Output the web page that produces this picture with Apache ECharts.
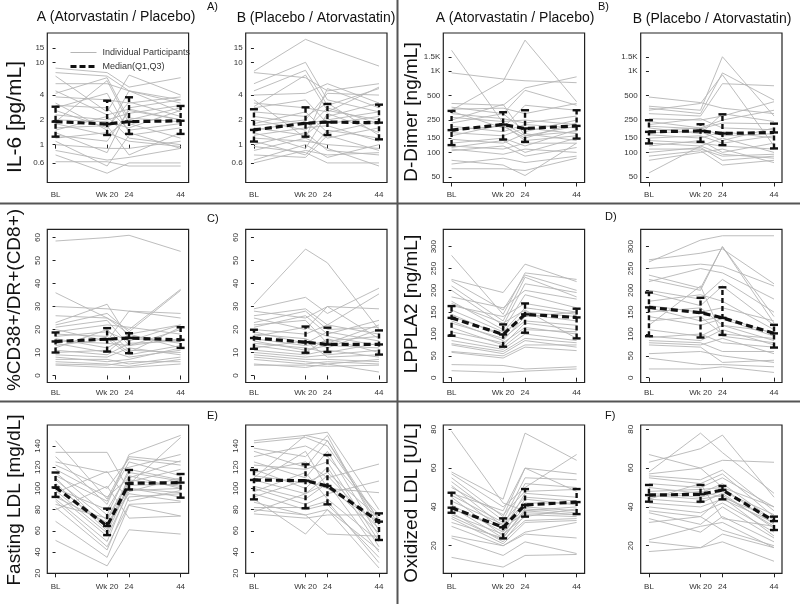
<!DOCTYPE html>
<html><head><meta charset="utf-8">
<script src="https://cdn.jsdelivr.net/npm/echarts@6/dist/echarts.min.js"></script>
<style>html,body{margin:0;padding:0;background:#fff}#c{width:800px;height:604px}</style>
</head><body><div id="c"></div>
<script>
// ---------- shared categories ----------
const timeLabels = ['BL', 'Wk 20', '24', '44'];
const timePos = [0, 20, 28.5, 48.5];

// ---------- tick labels ----------
const il6Ticks = [0.6, 1, 2, 4, 10, 15];
const il6TickLabels = ['0.6', '1', '2', '4', '10', '15'];
const ddTicks = [50, 100, 150, 250, 500, 1000, 1500];
const ddTickLabels = ['50', '100', '150', '250', '500', '1K', '1.5K'];
const cd38Ticks = [0, 10, 20, 30, 40, 50, 60];
const lpTicks = [0, 50, 100, 150, 200, 250, 300];
const ldlTicks = [20, 40, 60, 80, 100, 120, 140];
const oxTicks = [20, 40, 60, 80];

// ---------- IL-6, group A ----------
const il6A_med = [1.90, 1.78, 1.90, 1.95];
const il6A_q1 = [1.25, 1.31, 1.35, 1.35];
const il6A_q3 = [2.89, 3.42, 3.76, 2.95];
const il6A_ind = [
  [8.5, 7.5, 5, 6.5], [7.5, 6.8, 4.5, 3.2], [6.8, 2.5, 7, 4], [5.5, 5.5, 4.5, 3.5],
  [4.2, 6.5, 2, 2.8], [3.8, 3.5, 3.2, 3.8], [3.2, 1.5, 4.5, 2.5], [3, 2.8, 1.5, 1.8],
  [2.6, 1.6, 3.3, 2.2], [2.3, 2, 2.4, 3], [2, 1.9, 1.6, 2.6], [1.9, 6, 1.8, 1.2],
  [1.8, 1.3, 2.1, 1.9], [1.6, 1.7, 0.75, 1.4], [1.5, 2.2, 1.2, 1.0], [1.3, 1.1, 2.6, 2.0],
  [1.2, 1.4, 1.1, 0.95], [1.1, 0.55, 1.3, 1.6], [1.0, 0.9, 0.9, 1.1], [0.85, 0.65, 0.7, 0.9],
  [0.75, 0.45, 0.6, 0.6], [0.62, 0.62, 0.55, 0.55], [2.8, 4.2, 1.4, 0.9], [1.4, 0.8, 2.8, 3.5],
  [4.5, 2.3, 2.7, 2.0]
];
// ---------- IL-6, group B ----------
const il6B_med = [1.51, 1.82, 1.88, 1.85];
const il6B_q1 = [1.09, 1.25, 1.31, 1.16];
const il6B_q3 = [2.69, 2.84, 3.12, 3.06];
const il6B_ind = [
  [7.8, 19, 15, 9], [7.5, 6.5, 4.5, 5.5], [5.5, 10, 3.5, 2.5], [4.5, 8, 3, 4.8],
  [4, 4.2, 5.5, 3.2], [3.5, 1.2, 4.8, 2.8], [3.2, 2.8, 2.5, 5], [2.8, 3.5, 1.8, 2.2],
  [2.5, 2.2, 3.2, 1.3], [2.2, 1.8, 2, 2.5], [2.0, 1.5, 2.8, 1.8], [1.8, 2.5, 1.4, 1.9],
  [1.6, 1.3, 2.2, 3.2], [1.5, 1.9, 1.2, 1.6], [1.4, 0.9, 2.4, 1.4], [1.3, 1.6, 1.7, 1.1],
  [1.2, 1.1, 1.0, 0.9], [1.1, 0.75, 1.5, 1.2], [1.0, 1.4, 0.85, 0.75], [0.95, 0.8, 0.6, 0.6],
  [0.85, 1.2, 0.9, 0.55], [0.75, 0.7, 1.3, 0.85], [0.65, 1.0, 0.7, 1.0], [0.6, 0.85, 0.75, 0.8],
  [2.9, 7, 2.6, 2.0], [1.7, 2.0, 4.2, 4]
];
// ---------- D-Dimer, group A ----------
const ddA_med = [188, 220, 197, 212];
const ddA_q1 = [123, 144, 135, 148];
const ddA_q3 = [324, 312, 330, 330];
const ddA_ind = [
  [1800, 230, 160, 180], [950, 800, 760, 720], [330, 750, 2400, 420], [400, 380, 620, 850],
  [360, 300, 580, 380], [340, 350, 300, 400], [320, 200, 380, 330], [300, 260, 230, 280],
  [270, 240, 250, 220], [230, 300, 180, 250], [210, 180, 220, 200], [190, 210, 150, 230],
  [175, 160, 200, 170], [160, 220, 140, 160], [145, 130, 170, 140], [130, 150, 120, 190],
  [120, 110, 130, 130], [115, 140, 100, 150], [110, 95, 110, 100], [105, 120, 90, 115],
  [80, 70, 52, 130], [72, 85, 75, 90], [63, 63, 60, 85], [250, 390, 160, 210]
];
// ---------- D-Dimer, group B ----------
const ddB_med = [179, 184, 171, 176];
const ddB_q1 = [129, 135, 123, 112];
const ddB_q3 = [249, 222, 294, 226];
const ddB_ind = [
  [480, 410, 350, 300], [370, 330, 1500, 280], [350, 300, 950, 440], [330, 400, 900, 120],
  [300, 280, 700, 660], [260, 250, 280, 420], [240, 200, 250, 330], [220, 260, 200, 190],
  [200, 170, 300, 240], [185, 200, 160, 170], [175, 180, 140, 200], [165, 150, 180, 150],
  [150, 160, 130, 160], [140, 130, 120, 110], [130, 120, 150, 100], [120, 140, 100, 130],
  [110, 110, 90, 95], [100, 115, 80, 90], [90, 105, 70, 80], [80, 100, 110, 75],
  [56, 120, 95, 85], [210, 195, 230, 225]
];
// ---------- %CD38+/DR+(CD8+), group A ----------
const cdA_med = [14.8, 15.8, 16.3, 15.5];
const cdA_q1 = [10.0, 10.4, 9.7, 12.0];
const cdA_q3 = [18.7, 20.6, 18.4, 21.0];
const cdA_ind = [
  [58.5, 60, 61, 54], [36, 25, 18, 22], [30, 29, 28, 27], [26, 25, 20, 37.5],
  [23, 31, 16, 15], [22, 27, 19, 37], [20, 15, 28, 25], [19, 22, 21, 18],
  [18, 17, 10, 21], [17, 19, 15, 22], [16, 12, 17, 14], [15, 14, 13, 16],
  [14, 10, 18, 12], [13, 16, 9, 13], [12, 20, 11, 10], [11, 9, 14, 15],
  [10, 11, 8, 11], [9, 8, 12, 9], [8, 6, 7, 12], [7, 7, 5, 8],
  [6, 5, 4, 7], [5, 4.5, 6, 6], [4.5, 3.5, 3.5, 5], [21, 24, 13, 20]
];
// ---------- %CD38+/DR+(CD8+), group B ----------
const cdB_med = [16.3, 14.5, 13.5, 13.5];
const cdB_q1 = [11.6, 9.9, 10.2, 9.1];
const cdB_q3 = [19.9, 21.3, 20.8, 19.6];
const cdB_ind = [
  [31, 55, 49, 20], [29, 34, 27, 38], [28, 25, 30, 29], [26, 29, 22, 35.5],
  [25, 20, 30, 16], [23, 28, 20, 21], [22, 24, 14, 22], [20, 18, 22, 18],
  [19, 14, 19, 15], [18, 16, 12, 20], [17, 21, 17, 13], [16, 13, 15, 17],
  [15, 11, 13, 12], [14, 12, 10, 14], [13, 10, 16, 10], [12, 15, 8, 9],
  [11, 9, 11, 8], [10, 8, 9, 11], [9, 7, 7, 6], [8, 6, 5, 7],
  [7, 5, 6, 5], [5, 3.5, 5, 1.5], [4.5, 4.5, 4, 4.5], [21, 26, 18, 24]
];
// ---------- LPPLA2, group A ----------
const lpA_med = [137, 99, 145, 138];
const lpA_q1 = [96, 71, 103, 90];
const lpA_q3 = [164, 122, 170, 158];
const lpA_ind = [
  [280, 145, 240, 225], [225, 195, 260, 220], [222, 155, 235, 200], [210, 130, 230, 185],
  [200, 120, 215, 195], [185, 160, 200, 180], [175, 110, 190, 160], [165, 140, 170, 150],
  [155, 105, 160, 145], [145, 95, 150, 140], [140, 100, 145, 130], [130, 85, 140, 150],
  [125, 90, 130, 120], [115, 75, 125, 110], [105, 80, 115, 100], [95, 70, 110, 105],
  [85, 65, 100, 85], [78, 60, 90, 80], [75, 55, 85, 70], [60, 50, 75, 75],
  [58, 45, 70, 62], [30, 28, 20, 25], [16, 12, 15, 20], [170, 125, 155, 90]
];
// ---------- LPPLA2, group B ----------
const lpB_med = [161, 149, 137, 101.5];
const lpB_q1 = [95, 92, 98, 69];
const lpB_q3 = [195, 183, 207, 121];
const lpB_ind = [
  [265, 315, 325, 325], [270, 285, 295, 215], [250, 260, 255, 210], [235, 205, 300, 125],
  [225, 200, 300, 140], [220, 250, 240, 180], [200, 180, 225, 150], [195, 165, 210, 120],
  [175, 190, 175, 110], [165, 150, 160, 130], [160, 130, 140, 100], [150, 160, 120, 105],
  [140, 120, 135, 95], [130, 140, 100, 90], [110, 95, 120, 85], [95, 85, 110, 75],
  [92, 100, 80, 70], [85, 80, 60, 60], [80, 75, 90, 55], [75, 70, 35, 40],
  [55, 60, 50, 35], [45, 30, 30, 25], [20, 20, 25, 12], [120, 210, 95, 80]
];
// ---------- Fasting LDL, group A ----------
const ldlA_med = [101, 64.6, 104.8, 105.5];
const ldlA_q1 = [92, 56, 99, 91.3];
const ldlA_q3 = [115, 81, 117.4, 113.6];
const ldlA_ind = [
  [145, 90, 130, 125], [134, 134, 98, 100], [130, 85, 132, 150], [125, 115, 120, 132],
  [122, 100, 128, 122], [118, 92, 110, 126], [115, 75, 118, 108], [112, 88, 125, 112],
  [108, 70, 106, 118], [105, 60, 112, 100], [102, 65, 100, 96], [100, 80, 115, 107],
  [98, 58, 103, 104], [95, 55, 97, 110], [92, 68, 95, 88], [90, 50, 100, 92],
  [88, 45, 85, 87], [85, 72, 108, 102], [82, 42, 92, 95], [80, 102, 72, 74],
  [69, 35, 84, 74], [51, 27, 61, 57], [110, 62, 104, 148], [96, 116, 88, 98]
];
// ---------- Fasting LDL, group B ----------
const ldlB_med = [108, 107.3, 102.3, 68.7];
const ldlB_q1 = [89.7, 81.3, 85, 51.4];
const ldlB_q3 = [117.4, 122.7, 131.5, 76.5];
const ldlB_ind = [
  [145, 150, 153, 80], [143, 148, 140, 70], [138, 130, 150, 60], [135, 120, 145, 65],
  [130, 140, 130, 75], [125, 110, 135, 55], [122, 118, 125, 50], [118, 100, 120, 45],
  [115, 125, 110, 123], [112, 105, 115, 72], [108, 95, 112, 62], [105, 135, 100, 68],
  [102, 90, 105, 40], [100, 85, 95, 107], [97, 115, 90, 50], [95, 80, 85, 35],
  [92, 108, 100, 96], [90, 57, 80, 42], [87, 75, 57, 55], [82, 82, 88, 30],
  [80, 75, 80, 25], [78, 95, 105, 58], [76, 72, 75, 75], [110, 150, 145, 70]
];
// ---------- Oxidized LDL, group A ----------
const oxA_med = [39.6, 29.5, 41, 42.5];
const oxA_q1 = [37, 23.8, 35, 36.3];
const oxA_q3 = [47.3, 34.1, 49.2, 49.2];
const oxA_ind = [
  [79, 42, 38, 40], [58, 44, 78, 64], [57, 40, 50, 67], [55, 35, 60, 57],
  [53, 33, 55, 54], [51, 30, 52, 50], [50, 36, 48, 49], [48, 28, 47, 45],
  [46, 32, 45, 43], [45, 25, 44, 41], [43, 31, 42, 42], [41, 27, 40, 38],
  [40, 24, 39, 37], [39, 29, 37, 36], [37, 22, 36, 35], [36, 26, 35, 39],
  [35, 23, 33, 34], [34, 21, 32, 33], [32, 24, 38, 36], [30, 20, 27, 32],
  [25, 20, 26, 24], [24, 15, 22, 16], [14, 9, 15, 15.5], [47, 38, 60, 48]
];
// ---------- Oxidized LDL, group B ----------
const oxB_med = [46.1, 46.5, 48.7, 32.7];
const oxB_q1 = [42.7, 42.7, 43.9, 28.1];
const oxB_q3 = [51.3, 51.3, 50.8, 35];
const oxB_ind = [
  [67, 60, 50, 40], [63, 70, 77, 45], [58, 78, 68, 47], [57, 60, 64, 63],
  [56, 54, 59, 38], [55, 52, 57, 35], [52, 50, 55, 40], [50, 47, 52, 33],
  [48, 49, 50, 31], [47, 45, 48, 36], [46, 44, 46, 30], [45, 48, 45, 34],
  [44, 42, 47, 29], [42, 40, 44, 32], [40, 37, 42, 27], [38, 35, 45, 25],
  [37, 31, 40, 24], [34, 27, 35, 22], [32, 35, 28, 20], [23, 30, 32, 19],
  [22, 19, 26, 19], [17, 19, 22, 12], [44, 52, 34, 30]
];

// ---------- layout ----------
const colLeft = [47.3, 245.7, 443.3, 640.7];
const boxW = 141.3;
const rowTop = [33, 229.3, 425];
const rowBottom = [182.5, 382.5, 573.3];
const rowXLabelMargin = [8, 6, 9];
const xRange = [-3.2, 51.6];

const panels = [
  {row: 0, col: 0, log: true, range: [0.347, 22.7], ticks: il6Ticks, tickLabels: il6TickLabels, ind: il6A_ind, med: il6A_med, q1: il6A_q1, q3: il6A_q3},
  {row: 0, col: 1, log: true, range: [0.347, 22.7], ticks: il6Ticks, tickLabels: il6TickLabels, ind: il6B_ind, med: il6B_med, q1: il6B_q1, q3: il6B_q3},
  {row: 0, col: 2, log: true, range: [42.7, 2938], ticks: ddTicks, tickLabels: ddTickLabels, ind: ddA_ind, med: ddA_med, q1: ddA_q1, q3: ddA_q3},
  {row: 0, col: 3, log: true, range: [42.7, 2938], ticks: ddTicks, tickLabels: ddTickLabels, ind: ddB_ind, med: ddB_med, q1: ddB_q1, q3: ddB_q3},
  {row: 1, col: 0, log: false, range: [-3.05, 63.6], ticks: cd38Ticks, ind: cdA_ind, med: cdA_med, q1: cdA_q1, q3: cdA_q3},
  {row: 1, col: 1, log: false, range: [-3.05, 63.6], ticks: cd38Ticks, ind: cdB_ind, med: cdB_med, q1: cdB_q1, q3: cdB_q3},
  {row: 1, col: 2, log: false, range: [-11, 339.8], ticks: lpTicks, ind: lpA_ind, med: lpA_med, q1: lpA_q1, q3: lpA_q3},
  {row: 1, col: 3, log: false, range: [-11, 339.8], ticks: lpTicks, ind: lpB_ind, med: lpB_med, q1: lpB_q1, q3: lpB_q3},
  {row: 2, col: 0, log: false, range: [20, 159.8], ticks: ldlTicks, ind: ldlA_ind, med: ldlA_med, q1: ldlA_q1, q3: ldlA_q3},
  {row: 2, col: 1, log: false, range: [20, 159.8], ticks: ldlTicks, ind: ldlB_ind, med: ldlB_med, q1: ldlB_q1, q3: ldlB_q3},
  {row: 2, col: 2, log: false, range: [5.8, 82.2], ticks: oxTicks, ind: oxA_ind, med: oxA_med, q1: oxA_q1, q3: oxA_q3},
  {row: 2, col: 3, log: false, range: [5.8, 82.2], ticks: oxTicks, ind: oxB_ind, med: oxB_med, q1: oxB_q1, q3: oxB_q3}
];

const FONT = 'Liberation Sans, Arial, sans-serif';
const grids = [], xAxes = [], yAxes = [], series = [];

function findLabel(arr, labels, v) {
  for (let i = 0; i < arr.length; i++) if (Math.abs(arr[i] - v) < 1e-6) return labels ? labels[i] : String(v);
  return '';
}

panels.forEach((p, i) => {
  const tf = p.log ? (v => Math.log10(v)) : (v => v);
  const tickVals = p.ticks.map(tf);
  grids.push({
    left: colLeft[p.col], top: rowTop[p.row], width: boxW,
    height: rowBottom[p.row] - rowTop[p.row],
    show: true, borderColor: '#222', borderWidth: 1.2, backgroundColor: 'transparent'
  });
  xAxes.push({
    type: 'value', gridIndex: i, min: xRange[0], max: xRange[1],
    axisLine: {show: false}, splitLine: {show: false},
    axisTick: {show: true, customValues: timePos, length: 4, lineStyle: {color: '#222', width: 1}},
    axisLabel: {customValues: timePos, formatter: v => findLabel(timePos, timeLabels, v),
      fontSize: 8, color: '#333', margin: rowXLabelMargin[p.row], fontFamily: FONT}
  });
  yAxes.push({
    type: 'value', gridIndex: i, min: tf(p.range[0]), max: tf(p.range[1]),
    axisLine: {show: false}, splitLine: {show: false},
    axisTick: {show: true, customValues: tickVals, length: 3, lineStyle: {color: '#222', width: 1}},
    axisLabel: {customValues: tickVals, formatter: v => findLabel(tickVals, p.tickLabels || p.ticks.map(String), v),
      fontSize: 8, color: '#333', margin: p.row === 0 ? 3 : 6, rotate: p.row === 0 ? 0 : 90, fontFamily: FONT}
  });
  series.push({
    type: 'lines', coordinateSystem: 'cartesian2d', xAxisIndex: i, yAxisIndex: i,
    polyline: true, silent: true, z: 2,
    lineStyle: {color: '#b5b5b5', width: 0.9, opacity: 1},
    data: p.ind.map(r => ({coords: r.map((v, j) => [timePos[j], tf(v)])}))
  });
  series.push({
    type: 'line', name: i === 0 ? 'Median(Q1,Q3)' : 'median' + i, xAxisIndex: i, yAxisIndex: i,
    symbol: 'none', z: 5, silent: true, color: '#111',
    lineStyle: {color: '#111', width: 3.2, type: [7, 4]},
    data: p.med.map((v, j) => [timePos[j], tf(v)])
  });
  series.push({
    type: 'custom', xAxisIndex: i, yAxisIndex: i, z: 6, silent: true,
    data: p.med.map((v, j) => [timePos[j], tf(p.q1[j]), tf(p.q3[j]), tf(v)]),
    renderItem: (params, api) => {
      const x = api.value(0);
      const lo = api.coord([x, api.value(1)]);
      const hi = api.coord([x, api.value(2)]);
      const md = api.coord([x, api.value(3)]);
      const c = 4, st = {stroke: '#111', lineWidth: 2.4};
      return {type: 'group', children: [
        {type: 'line', shape: {x1: lo[0], y1: lo[1], x2: hi[0], y2: hi[1]}, style: {stroke: '#111', lineWidth: 2.4, lineDash: [5, 3]}},
        {type: 'line', shape: {x1: lo[0] - c, y1: lo[1], x2: lo[0] + c, y2: lo[1]}, style: st},
        {type: 'line', shape: {x1: hi[0] - c, y1: hi[1], x2: hi[0] + c, y2: hi[1]}, style: st},
        {type: 'line', shape: {x1: md[0] - c, y1: md[1], x2: md[0] + c, y2: md[1]}, style: st}
      ]};
    }
  });
});
// legend-only series for participants' lines
series.push({type: 'line', name: 'Individual Participants', xAxisIndex: 0, yAxisIndex: 0, data: [],
  symbol: 'none', color: '#b5b5b5', lineStyle: {color: '#b5b5b5', width: 1}});

const titleStyle = {font: '14px ' + FONT, fill: '#111', textAlign: 'center', textVerticalAlign: 'middle'};
const letterStyle = {font: '11px ' + FONT, fill: '#111', textAlign: 'left', textVerticalAlign: 'middle'};
const yNameStyle = (t, size) => ({text: t, font: size + 'px ' + FONT, fill: '#111', textAlign: 'center', textVerticalAlign: 'middle'});

const graphic = [
  {type: 'text', x: 116, y: 17, style: Object.assign({text: 'A (Atorvastatin / Placebo)'}, titleStyle)},
  {type: 'text', x: 316, y: 18, style: Object.assign({text: 'B (Placebo / Atorvastatin)'}, titleStyle)},
  {type: 'text', x: 515, y: 18, style: Object.assign({text: 'A (Atorvastatin / Placebo)'}, titleStyle)},
  {type: 'text', x: 712, y: 19, style: Object.assign({text: 'B (Placebo / Atorvastatin)'}, titleStyle)},
  {type: 'text', x: 207, y: 7, style: Object.assign({text: 'A)'}, letterStyle)},
  {type: 'text', x: 598, y: 7, style: Object.assign({text: 'B)'}, letterStyle)},
  {type: 'text', x: 207, y: 219, style: Object.assign({text: 'C)'}, letterStyle)},
  {type: 'text', x: 605, y: 217, style: Object.assign({text: 'D)'}, letterStyle)},
  {type: 'text', x: 207, y: 416, style: Object.assign({text: 'E)'}, letterStyle)},
  {type: 'text', x: 605, y: 416, style: Object.assign({text: 'F)'}, letterStyle)},
  {type: 'text', x: 15, y: 117, rotation: Math.PI / 2, style: yNameStyle('IL-6 [pg/mL]', 21)},
  {type: 'text', x: 412, y: 112, rotation: Math.PI / 2, style: yNameStyle('D-Dimer [ng/mL]', 19)},
  {type: 'text', x: 15, y: 300, rotation: Math.PI / 2, style: yNameStyle('%CD38+/DR+(CD8+)', 19)},
  {type: 'text', x: 412, y: 304, rotation: Math.PI / 2, style: yNameStyle('LPPLA2 [ng/mL]', 19)},
  {type: 'text', x: 15, y: 500, rotation: Math.PI / 2, style: yNameStyle('Fasting LDL [mg/dL]', 19)},
  {type: 'text', x: 412, y: 503, rotation: Math.PI / 2, style: yNameStyle('Oxidized LDL [U/L]', 19)},
  {type: 'line', shape: {x1: 397.5, y1: 0, x2: 397.5, y2: 604}, style: {stroke: '#555', lineWidth: 2}},
  {type: 'line', shape: {x1: 0, y1: 203.5, x2: 800, y2: 203.5}, style: {stroke: '#555', lineWidth: 2}},
  {type: 'line', shape: {x1: 0, y1: 401.5, x2: 800, y2: 401.5}, style: {stroke: '#555', lineWidth: 2}}
];

const chart = echarts.init(document.getElementById('c'), null, {renderer: 'canvas'});
chart.setOption({
  animation: false,
  backgroundColor: '#fff',
  grid: grids, xAxis: xAxes, yAxis: yAxes, series: series, graphic: graphic,
  legend: {
    left: 64, top: 43, orient: 'vertical', itemWidth: 26, itemHeight: 8, itemGap: 5,
    selectedMode: false,
    textStyle: {fontSize: 9, color: '#333', fontFamily: FONT, padding: [0, 0, 0, 1]},
    data: [
      {name: 'Individual Participants', itemStyle: {opacity: 0}, lineStyle: {width: 1, color: '#b5b5b5'}},
      {name: 'Median(Q1,Q3)', itemStyle: {opacity: 0}, lineStyle: {width: 3, color: '#111', type: [6, 3]}}
    ]
  }
});
</script></body></html>
